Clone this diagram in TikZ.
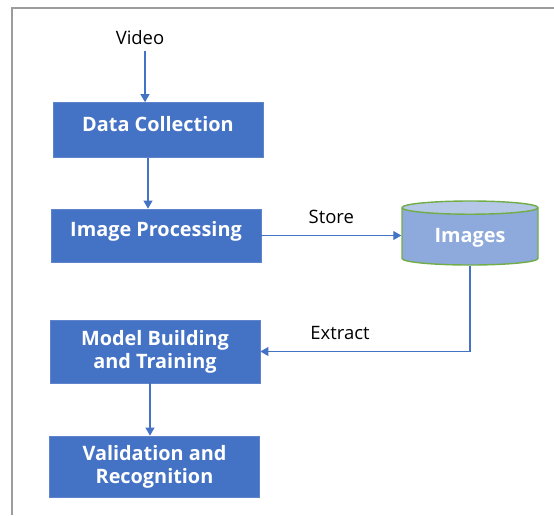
\documentclass[tikz,border=0pt]{standalone}
\usepackage{fontspec}
\setmainfont{Open Sans}
\usepackage{tikz}
\usetikzlibrary{arrows.meta, shapes.geometric}
\usepackage{xcolor}
\definecolor{stage}{HTML}{4472C4}
\definecolor{stageline}{HTML}{5F84CC}
\definecolor{store}{HTML}{8EA9DB}
\definecolor{storetop}{HTML}{B4C7E7}
\definecolor{storeline}{HTML}{70AD47}
\definecolor{flow}{HTML}{4472C4}
\definecolor{frame}{HTML}{9C9C9C}
\tikzset{stage/.style={draw=stageline,fill=stage,text=white,font=\fontsize{11.3}{13.2}\selectfont\bfseries,rectangle,minimum width=4.2cm,align=center}}
\tikzset{raised/.style={text depth=0.25cm}}
\tikzset{db/.style={cylinder,shape border rotate=90,aspect=0.16,draw=storeline,line width=0.8pt,cylinder uses custom fill,cylinder body fill=store,cylinder end fill=storetop,text=white,font=\fontsize{11.3}{13.2}\selectfont\bfseries,minimum width=2.72cm,minimum height=1.28cm}}
\tikzset{lbl/.style={text=black,font=\fontsize{10.5}{12.5}\selectfont}}
\tikzset{arr/.style={flow,line width=0.7pt,-{Triangle[width=5pt,length=4.5pt]}}}

\begin{document}
\begin{tikzpicture}
    \useasboundingbox (0,0) rectangle (11.08,-10.3);
    \draw[frame, line width=1.1pt] (11.08,-0.16) -- (0.24,-0.16) -- (0.24,-10.3);

    \node[lbl] (video) at (2.8, -0.76) {Video};

    \node[stage, raised, minimum height=1.1cm] (dc) at (3.16, -2.6) {Data Collection};
    \node[stage, raised, minimum height=1.06cm] (ip) at (3.12, -4.71) {Image Processing};
    \node[stage, minimum height=1.26cm] (mb) at (3.1, -7.03) {Model Building\\and Training};
    \node[stage, minimum height=1.22cm] (vr) at (3.09, -9.33) {Validation and\\Recognition};
    \node[db] (img) at (9.4, -4.76) {Images};

    \draw[arr] ([xshift=0.1cm]video.south) -- ([xshift=0.1cm]video.south |- dc.north);
    \draw[arr] ([xshift=-0.2cm]dc.south) -- ([xshift=-0.2cm]dc.south |- ip.north);
    \draw[arr] (ip.east) -- (ip.east -| img.west) node[lbl, midway, above=0.1cm] {Store};
    \draw[arr] (img.south) |- (mb.east) node[lbl, pos=0.81, above=0.1cm] {Extract};
    \draw[arr] ([xshift=-0.1cm]mb.south) -- ([xshift=-0.1cm]mb.south |- vr.north);
\end{tikzpicture}
\end{document}
